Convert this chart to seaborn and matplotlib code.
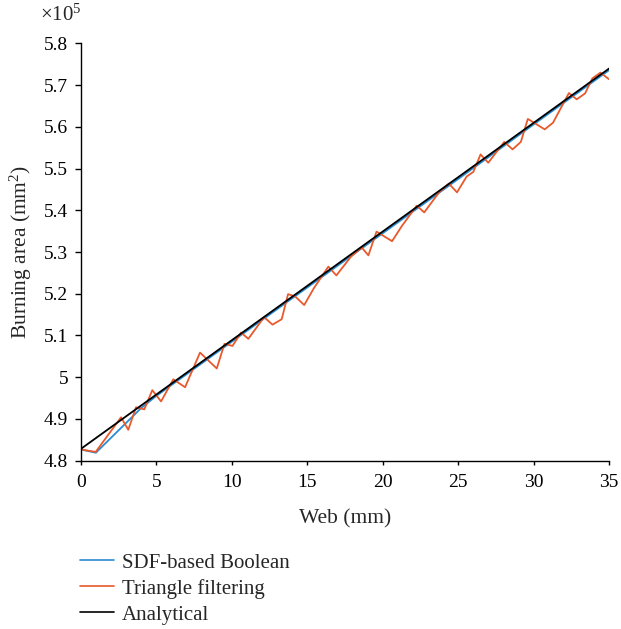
import matplotlib
matplotlib.use("Agg")
import matplotlib.pyplot as plt
import seaborn as sns
import pandas as pd

# Burning area (x1e5 mm^2) versus web thickness (mm)
web_analytical = [0.0, 35.0]
area_analytical = [4.828, 5.740]

web_sdf = [0.0, 1.0, 4.0, 5.0, 10.0, 15.0, 20.0, 25.0, 30.0, 35.0]
area_sdf = [4.827, 4.819, 4.926, 4.955, 5.085, 5.215, 5.345, 5.475, 5.606, 5.736]

web_tri = [0.0, 0.99, 2.67, 3.15, 3.66, 4.21, 4.74, 5.32, 6.13, 6.91,
           7.90, 9.01, 9.52, 10.05, 10.62, 11.10, 12.14, 12.70, 13.31, 13.73,
           14.19, 14.80, 15.45, 16.40, 16.93, 17.90, 18.61, 19.05, 19.59, 20.62,
           21.26, 22.25, 22.75, 23.73, 24.38, 24.92, 25.56, 26.00, 26.48, 26.99,
           28.05, 28.60, 29.15, 29.61, 30.73, 31.28, 32.33, 32.85, 33.40, 33.88,
           34.42, 34.99]
area_tri = [4.827, 4.821, 4.904, 4.874, 4.928, 4.923, 4.969, 4.942, 4.995, 4.976,
            5.059, 5.021, 5.080, 5.075, 5.107, 5.092, 5.144, 5.126, 5.139, 5.199,
            5.194, 5.173, 5.214, 5.265, 5.244, 5.289, 5.311, 5.292, 5.349, 5.326,
            5.362, 5.411, 5.395, 5.443, 5.464, 5.443, 5.481, 5.492, 5.534, 5.514,
            5.564, 5.546, 5.564, 5.619, 5.594, 5.610, 5.681, 5.666, 5.680, 5.716,
            5.730, 5.714]

series_names = ["SDF-based Boolean", "Triangle filtering", "Analytical"]
colors = {"SDF-based Boolean": "#2a8bd2",
          "Triangle filtering": "#e8592c",
          "Analytical": "#000000"}

x_ticks = [0, 5, 10, 15, 20, 25, 30, 35]
y_ticks = [4.8, 4.9, 5.0, 5.1, 5.2, 5.3, 5.4, 5.5, 5.6, 5.7, 5.8]
y_tick_labels = ["4.8", "4.9", "5", "5.1", "5.2", "5.3", "5.4", "5.5", "5.6", "5.7", "5.8"]

df = pd.concat([
    pd.DataFrame({"web": web_sdf, "area": area_sdf, "method": series_names[0]}),
    pd.DataFrame({"web": web_tri, "area": area_tri, "method": series_names[1]}),
    pd.DataFrame({"web": web_analytical, "area": area_analytical, "method": series_names[2]}),
], ignore_index=True)

sns.set_style("ticks")
plt.rcParams["font.family"] = ["Liberation Serif", "DejaVu Serif"]
plt.rcParams["mathtext.fontset"] = "custom"
plt.rcParams["mathtext.rm"] = "Liberation Serif"
plt.rcParams["mathtext.it"] = "Liberation Serif:italic"

fig = plt.figure(figsize=(6.21, 6.29), dpi=100)
ax = fig.add_axes([0.130, 0.2676, 0.851, 0.6634])

sns.lineplot(data=df, x="web", y="area", hue="method", hue_order=series_names,
             palette=colors, sort=False, estimator=None, linewidth=1.3, ax=ax,
             legend=False)

ax.set_xlim(0, 35)
ax.set_ylim(4.8, 5.8)
ax.set_xticks(x_ticks)
ax.set_yticks(y_ticks)
ax.set_yticklabels(y_tick_labels)
ax.tick_params(axis="both", labelsize=14, direction="out", width=1, colors="black")
ax.tick_params(axis="x", length=3, pad=6.5)
ax.tick_params(axis="y", length=4.5, pad=4.5)
for side in ("top", "right"):
    ax.spines[side].set_visible(False)
for side in ("left", "bottom"):
    ax.spines[side].set_color("black")
    ax.spines[side].set_linewidth(1)

ax.set_xlabel("Web (mm)", fontsize=15.5, labelpad=13)
ax.set_ylabel("Burning area (mm$^2$)", fontsize=15.5, labelpad=7)

fig.text(40 / 621, 1 - 15 / 629, r"$\times$10$^5$", fontsize=15, va="center", ha="left")

handles = [plt.Line2D([], [], color=colors[n], linewidth=1.2) for n in series_names]
fig.legend(handles, series_names, loc="upper left",
           bbox_to_anchor=(80 / 621, 1 - 553 / 629), frameon=False,
           fontsize=15, handlelength=1.65, handletextpad=0.36, labelspacing=0.3,
           borderaxespad=0, borderpad=0)

fig.savefig("out.png", dpi=100)
